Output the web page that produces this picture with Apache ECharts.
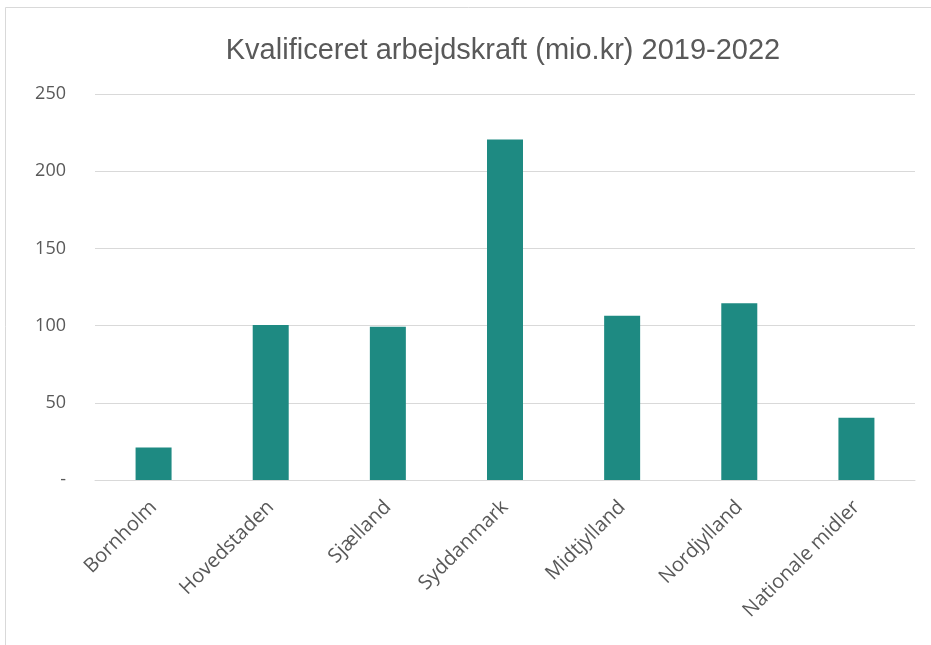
<!DOCTYPE html>
<html>
<head>
<meta charset="utf-8">
<script src="https://cdn.jsdelivr.net/npm/echarts@6/dist/echarts.min.js"></script>
<style>
  html, body { margin: 0; padding: 0; background: #fff; }
  #chart { width: 931px; height: 645px; }
</style>
</head>
<body>
<div id="chart"></div>
<script>
// data
var regions = ['Bornholm', 'Hovedstaden', 'Sjælland', 'Syddanmark', 'Midtjylland', 'Nordjylland', 'Nationale midler'];
var amounts = [21, 100.4, 99.2, 220.6, 106.4, 114.5, 40.3];
var yTicks = [0, 50, 100, 150, 200, 250];

var myChart = echarts.init(document.getElementById('chart'));

var option = {
    backgroundColor: '#fff',
    title: {
        text: 'Kvalificeret arbejdskraft (mio.kr) 2019-2022',
        left: 498,
        top: 31,
        textAlign: 'center',
        textStyle: {
            fontFamily: 'Liberation Sans',
            fontSize: 29,
            fontWeight: 'normal',
            color: '#595959'
        }
    },
    graphic: [{
        type: 'rect',
        shape: { x: 5.5, y: 7.5, width: 960, height: 700 },
        style: { fill: 'none', stroke: '#d9d9d9', lineWidth: 1 },
        silent: true
    }],
    grid: {
        left: 95,
        right: 16,
        top: 94,
        bottom: 165
    },
    xAxis: {
        type: 'category',
        data: regions,
        axisTick: { show: false },
        axisLine: { lineStyle: { color: '#d9d9d9', width: 1 } },
        axisLabel: {
            rotate: 45,
            interval: 0,
            margin: 24,
            fontFamily: 'Open Sans',
            fontSize: 20,
            color: '#595959'
        }
    },
    yAxis: {
        type: 'value',
        min: yTicks[0],
        max: yTicks[yTicks.length - 1],
        interval: 50,
        axisLine: { show: false },
        axisTick: { show: false },
        splitLine: { lineStyle: { color: '#d9d9d9', width: 1 } },
        axisLabel: {
            margin: 29,
            fontFamily: 'Open Sans',
            fontSize: 18,
            color: '#595959',
            formatter: function (v) { return v === 0 ? '-' : String(v); }
        }
    },
    series: [{
        type: 'bar',
        data: amounts,
        barWidth: 36,
        itemStyle: { color: '#1e8a82' }
    }]
};

myChart.setOption(option);
</script>
</body>
</html>
